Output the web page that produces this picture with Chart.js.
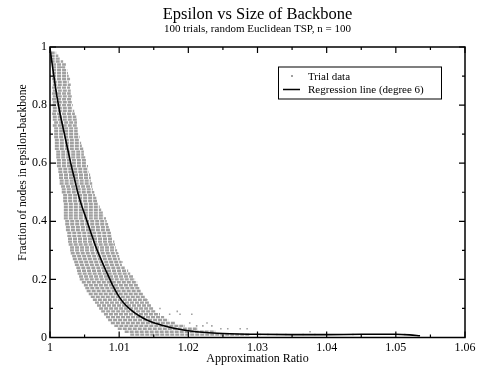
<!DOCTYPE html>
<html><head><meta charset="utf-8">
<script src="https://cdn.jsdelivr.net/npm/chart.js@4"></script>
<style>html,body{margin:0;padding:0;background:#fff;}</style>
</head><body>
<canvas id="c" width="484" height="365"></canvas>
<script>
// ---- Data ----
// Dense trial-data cloud: each row is one fraction level (k/100) with the observed span of approximation ratios
const rowFraction = [0.98,0.97,0.96,0.95,0.94,0.93,0.92,0.91,0.90,0.89,0.88,0.87,0.86,0.85,0.84,0.83,0.82,0.81,0.80,0.79,0.78,0.77,0.76,0.75,0.74,0.73,0.72,0.71,0.70,0.69,0.68,0.67,0.66,0.65,0.64,0.63,0.62,0.61,0.60,0.59,0.58,0.57,0.56,0.55,0.54,0.53,0.52,0.51,0.50,0.49,0.48,0.47,0.46,0.45,0.44,0.43,0.42,0.41,0.40,0.39,0.38,0.37,0.36,0.35,0.34,0.33,0.32,0.31,0.30,0.29,0.28,0.27,0.26,0.25,0.24,0.23,0.22,0.21,0.20,0.19,0.18,0.17,0.16,0.15,0.14,0.13,0.12,0.11,0.10,0.09,0.08,0.07,0.06,0.05,0.04,0.03,0.02,0.01];
const rowRatioMin = [1.0001,1.0001,1.0001,1.0001,1.0003,1.0003,1.0003,1.0003,1.0003,1.0003,1.0004,1.0004,1.0003,1.0004,1.0003,1.0004,1.0003,1.0004,1.0003,1.0004,1.0004,1.0003,1.0004,1.0004,1.0006,1.0004,1.0006,1.0006,1.0006,1.0006,1.0007,1.0007,1.0007,1.0007,1.0009,1.0009,1.0009,1.0010,1.0010,1.0010,1.0012,1.0012,1.0013,1.0013,1.0014,1.0014,1.0016,1.0017,1.0017,1.0019,1.0019,1.0019,1.0020,1.0020,1.0020,1.0020,1.0020,1.0020,1.0022,1.0022,1.0023,1.0023,1.0025,1.0025,1.0026,1.0026,1.0027,1.0029,1.0029,1.0030,1.0032,1.0033,1.0035,1.0036,1.0038,1.0039,1.0040,1.0042,1.0043,1.0046,1.0049,1.0051,1.0053,1.0056,1.0059,1.0062,1.0065,1.0068,1.0071,1.0074,1.0078,1.0081,1.0084,1.0088,1.0093,1.0098,1.0108,1.0116];
const rowRatioMax = [1.0009,1.0012,1.0014,1.0019,1.0023,1.0022,1.0025,1.0026,1.0027,1.0029,1.0027,1.0030,1.0029,1.0030,1.0030,1.0032,1.0032,1.0032,1.0033,1.0033,1.0035,1.0036,1.0038,1.0039,1.0039,1.0039,1.0040,1.0040,1.0042,1.0043,1.0043,1.0045,1.0046,1.0048,1.0049,1.0049,1.0051,1.0052,1.0053,1.0055,1.0055,1.0056,1.0058,1.0059,1.0059,1.0061,1.0061,1.0062,1.0064,1.0065,1.0067,1.0068,1.0069,1.0072,1.0074,1.0077,1.0078,1.0081,1.0082,1.0084,1.0085,1.0087,1.0088,1.0090,1.0091,1.0093,1.0094,1.0095,1.0097,1.0098,1.0100,1.0101,1.0103,1.0104,1.0108,1.0113,1.0116,1.0120,1.0123,1.0126,1.0127,1.0130,1.0132,1.0134,1.0137,1.0140,1.0143,1.0146,1.0149,1.0153,1.0159,1.0165,1.0171,1.0181,1.0195,1.0214,1.0239,1.0289];
// Sparse trial points outside the dense band
const sparseRatio    = [1.0017,1.0087,1.0091,1.0098,1.0104,1.0127,1.0133,1.0140,1.0159,1.0173,1.0184,1.0188,1.0202,1.0205,1.0212,1.0221,1.0227,1.0234,1.0247,1.0257,1.0275,1.0285,1.0304,1.0315,1.0328,1.0341,1.0366,1.0376,1.0383,1.0438,1.0513];
const sparseFraction = [0.93,0.36,0.32,0.29,0.26,0.16,0.15,0.13,0.10,0.08,0.09,0.08,0.05,0.08,0.04,0.04,0.05,0.04,0.03,0.03,0.03,0.03,0.01,0.01,0.01,0.01,0.01,0.02,0.01,0.01,0.01];
// Regression line (degree 6)
const regRatio    = [1.0000,1.0005,1.0010,1.0015,1.0020,1.0025,1.0030,1.0035,1.0040,1.0045,1.0050,1.0055,1.0060,1.0065,1.0070,1.0075,1.0080,1.0090,1.0100,1.0110,1.0120,1.0130,1.0140,1.0155,1.0170,1.0185,1.0200,1.0225,1.0250,1.0300,1.0350,1.0400,1.0450,1.0500,1.0520,1.0535];
const regFraction = [0.995,0.91,0.83,0.765,0.71,0.655,0.60,0.55,0.50,0.46,0.425,0.39,0.355,0.32,0.29,0.262,0.235,0.183,0.140,0.110,0.089,0.073,0.060,0.047,0.037,0.029,0.023,0.017,0.014,0.011,0.010,0.010,0.011,0.011,0.009,0.006];
// Axis ticks
const xTicks = [1,1.01,1.02,1.03,1.04,1.05,1.06];
const xMinorTicks = [1.005,1.015,1.025,1.035,1.045,1.055];
const yTicks = [0,0.2,0.4,0.6,0.8,1];
const yMinorTicks = [0.1,0.3,0.5,0.7,0.9];
const titleText = 'Epsilon vs Size of Backbone';
const subtitleText = '100 trials, random Euclidean TSP, n = 100';
const xTitle = 'Approximation Ratio';
const yTitle = 'Fraction of nodes in epsilon-backbone';
const legendLabels = ['Trial data', 'Regression line (degree 6)'];

// ---- Build datasets ----
const bandData = [];
rowFraction.forEach((f, i) => {
  bandData.push({x: rowRatioMin[i], y: f});
  bandData.push({x: rowRatioMax[i], y: f});
  bandData.push({x: rowRatioMax[i], y: null});
});
const sparseData = sparseRatio.map((r, i) => ({x: r, y: sparseFraction[i]}));
const regData = regRatio.map((r, i) => ({x: r, y: regFraction[i]}));

const SERIF = '"Liberation Serif", "Times New Roman", serif';
const GRAY = '#a0a0a0';
const fmt = v => String(Number(Number(v).toFixed(3)));

const decor = {
  id: 'decor',
  afterDraw(chart) {
    const ctx = chart.ctx, a = chart.chartArea;
    const xs = chart.scales.x, ys = chart.scales.y;
    ctx.save();
    ctx.strokeStyle = '#000';
    ctx.lineWidth = 1.5;
    ctx.strokeRect(a.left, a.top, a.right - a.left, a.bottom - a.top);
    ctx.lineWidth = 1.2;
    ctx.beginPath();
    const vt = (vals, len) => vals.forEach(v => {
      const px = xs.getPixelForValue(v);
      ctx.moveTo(px, a.bottom); ctx.lineTo(px, a.bottom - len);
      ctx.moveTo(px, a.top); ctx.lineTo(px, a.top + len);
    });
    const ht = (vals, len) => vals.forEach(v => {
      const py = ys.getPixelForValue(v);
      ctx.moveTo(a.left, py); ctx.lineTo(a.left + len, py);
      ctx.moveTo(a.right, py); ctx.lineTo(a.right - len, py);
    });
    vt(xTicks, 6); vt(xMinorTicks, 3); ht(yTicks, 6); ht(yMinorTicks, 3);
    ctx.stroke();
    const cx = (a.left + a.right) / 2;
    ctx.fillStyle = '#000';
    ctx.textAlign = 'center';
    ctx.textBaseline = 'alphabetic';
    ctx.font = '16.5px ' + SERIF;
    ctx.fillText(titleText, cx, 18.5);
    ctx.font = '11px ' + SERIF;
    ctx.fillText(subtitleText, cx, 32);
    ctx.font = '12px ' + SERIF;
    ctx.fillText(xTitle, cx, 362);
    ctx.save();
    ctx.translate(26, 172.5);
    ctx.rotate(-Math.PI / 2);
    ctx.font = '11.5px ' + SERIF;
    ctx.fillText(yTitle, 0, 0);
    ctx.restore();
    // legend
    ctx.lineWidth = 1;
    ctx.strokeRect(278.5, 67, 163, 32);
    ctx.fillStyle = GRAY;
    ctx.fillRect(291, 75, 2, 2);
    ctx.strokeStyle = '#000';
    ctx.lineWidth = 1.5;
    ctx.beginPath(); ctx.moveTo(283, 89.5); ctx.lineTo(300, 89.5); ctx.stroke();
    ctx.fillStyle = '#000';
    ctx.textAlign = 'left';
    ctx.font = '11px ' + SERIF;
    ctx.fillText(legendLabels[0], 308, 79.5);
    ctx.fillText(legendLabels[1], 308, 93);
    ctx.restore();
  }
};

new Chart(document.getElementById('c'), {
  type: 'scatter',
  data: {
    datasets: [
      {label: 'Regression line (degree 6)', data: regData, showLine: true, borderColor: '#000', borderWidth: 1.6,
       pointRadius: 0, cubicInterpolationMode: 'monotone', fill: false, order: 0},
      {label: 'Trial data', data: sparseData, pointStyle: 'rect', pointRadius: 1.1, backgroundColor: GRAY,
       borderWidth: 0, order: 1},
      {label: 'Trial data band', data: bandData, showLine: true, spanGaps: false, borderColor: GRAY, borderWidth: 2.4,
       borderDash: [4, 1], pointRadius: 0, fill: false, order: 2}
    ]
  },
  options: {
    responsive: false,
    animation: false,
    events: [],
    layout: {padding: {top: 47, right: 19, left: 0, bottom: 0}},
    plugins: {legend: {display: false}, tooltip: {enabled: false}, title: {display: false}},
    scales: {
      x: {
        type: 'linear', min: 1, max: 1.06,
        afterFit(s) { s.height = 27.5; },
        afterBuildTicks(s) { s.ticks = xTicks.map(v => ({value: v})); },
        grid: {display: false, drawTicks: false},
        border: {display: false},
        ticks: {padding: 3, color: '#000', font: {family: SERIF, size: 12}, maxRotation: 0, autoSkip: false,
                callback: v => fmt(v)}
      },
      y: {
        type: 'linear', min: 0, max: 1,
        afterFit(s) { s.width = 50; },
        afterBuildTicks(s) { s.ticks = yTicks.map(v => ({value: v})); },
        grid: {display: false, drawTicks: false},
        border: {display: false},
        ticks: {padding: 3, color: '#000', font: {family: SERIF, size: 12}, autoSkip: false,
                callback: v => fmt(v)}
      }
    }
  },
  plugins: [decor]
});
</script>
</body></html>
